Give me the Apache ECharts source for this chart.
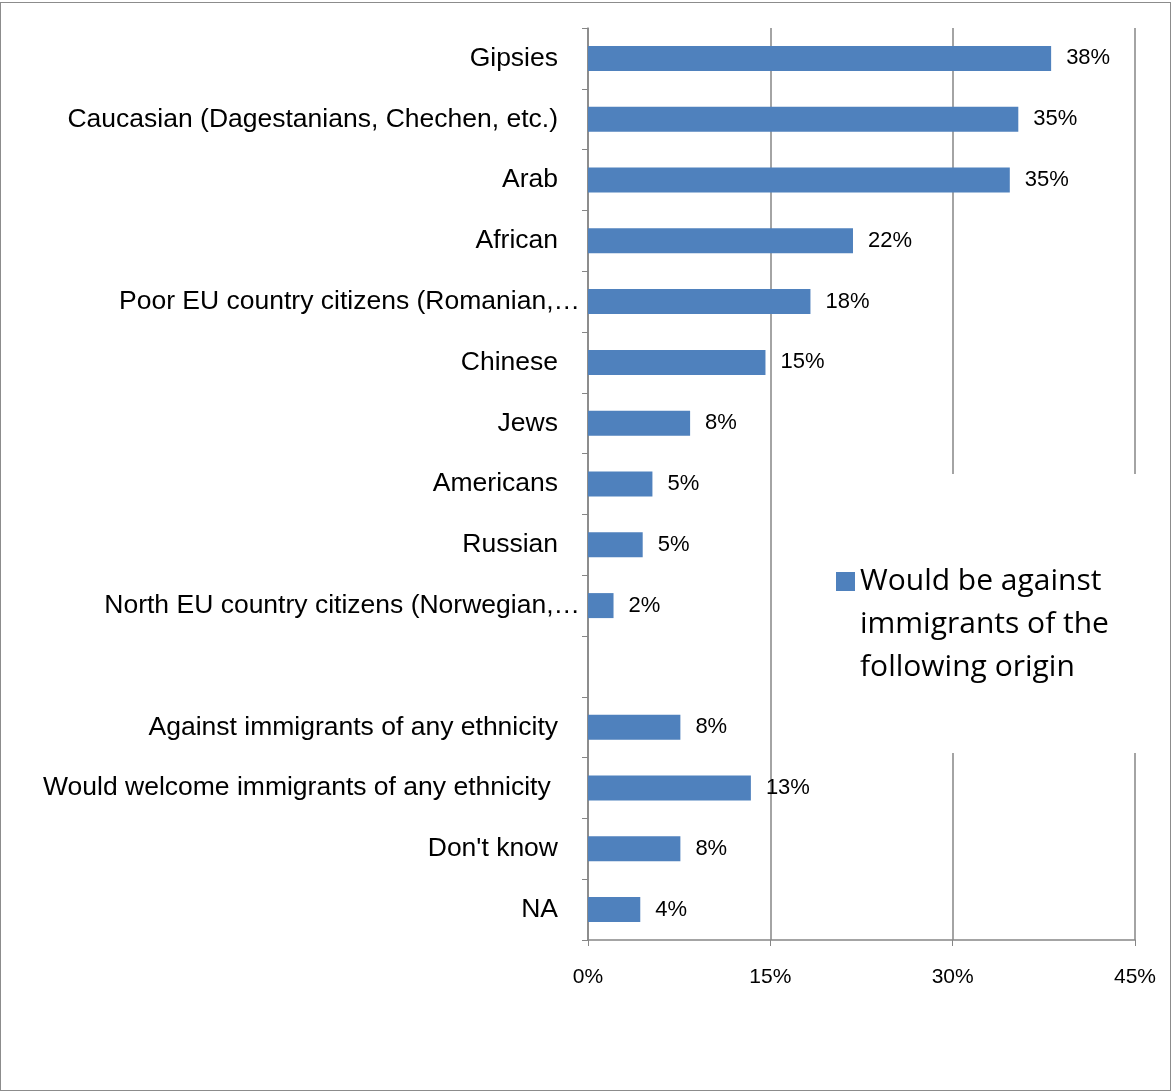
<!DOCTYPE html>
<html><head><meta charset="utf-8">
<script src="https://cdn.jsdelivr.net/npm/echarts@6/dist/echarts.min.js"></script>
<style>
html,body{margin:0;padding:0;background:#fff;}
#c{position:absolute;left:0;top:2px;width:1171px;height:1089px;border:1px solid #8c8c8c;box-sizing:border-box;}
</style></head><body>
<div id="c"></div>
<script>
const categories = [
  "Gipsies",
  "Caucasian (Dagestanians, Chechen, etc.)",
  "Arab",
  "African",
  "Poor EU country citizens (Romanian,…",
  "Chinese",
  "Jews",
  "Americans",
  "Russian",
  "North EU country citizens (Norwegian,…",
  " ",
  "Against immigrants of any ethnicity",
  "Would welcome immigrants of any ethnicity ",
  "Don't know",
  "NA"
];
const values = [38.1, 35.4, 34.7, 21.8, 18.3, 14.6, 8.4, 5.3, 4.5, 2.1, null, 7.6, 13.4, 7.6, 4.3];
const valueLabels = ["38%", "35%", "35%", "22%", "18%", "15%", "8%", "5%", "5%", "2%", "", "8%", "13%", "8%", "4%"];
const xTicks = [0, 15, 30, 45];
const seriesName = "Would be against immigrants of the following origin";
const legendLines = ["Would be against", "immigrants of the", "following origin"];

const chart = echarts.init(document.getElementById('c'));
const font = '"Liberation Sans", Arial, sans-serif';
const gray = '#868686';
const yData = categories.map(c => c.endsWith('…')
  ? {value: c, textStyle: {padding: [0, -22, 0, 0]}}
  : c);
chart.setOption({
  animation: false,
  grid: {left: 587, right: 35, top: 25, bottom: 150, containLabel: false},
  xAxis: {
    type: 'value', min: xTicks[0], max: xTicks[xTicks.length - 1], interval: 15,
    axisLine: {show: true, lineStyle: {color: gray, width: 1.5}},
    axisTick: {show: true, length: 6, lineStyle: {color: gray}},
    splitLine: {show: true, lineStyle: {color: gray, width: 1.5}},
    axisLabel: {margin: 27, fontFamily: font, fontSize: 21, color: '#000',
      formatter: v => v + '%'}
  },
  yAxis: {
    type: 'category', inverse: true, data: yData,
    axisLine: {show: true, lineStyle: {color: gray, width: 1.5}},
    axisTick: {show: true, length: 6, lineStyle: {color: gray}},
    axisLabel: {margin: 30, fontFamily: font, fontSize: 26.5, color: '#000'}
  },
  legend: {
    show: true, orient: 'vertical', left: 799, top: 471,
    padding: [0, 40, 64, 36],
    backgroundColor: '#fff',
    icon: 'rect', itemWidth: 19, itemHeight: 19, itemGap: 0,
    data: [seriesName],
    formatter: () => '\n\n' + legendLines.join('\n'),
    textStyle: {fontFamily: '"Open Sans", "Noto Sans", sans-serif', fontSize: 30, lineHeight: 43, color: '#000'}
  },
  series: [{
    name: seriesName, type: 'bar', data: values, barWidth: 25,
    itemStyle: {color: '#4F81BD'},
    label: {show: true, position: 'right', distance: 15, fontFamily: font, fontSize: 22, color: '#000',
      formatter: p => valueLabels[p.dataIndex]}
  }]
});
</script></body></html>
